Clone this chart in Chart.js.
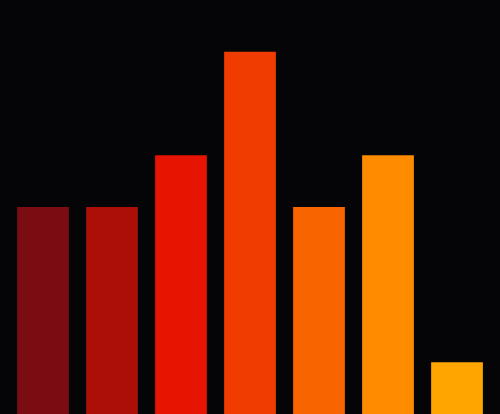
<!DOCTYPE html>
<html>
<head>
<meta charset="utf-8">
<script src="https://cdn.jsdelivr.net/npm/chart.js@4"></script>
<style>
  html, body { margin: 0; padding: 0; background: #050508; }
  #wrap { width: 500px; height: 414px; }
</style>
</head>
<body>
<div id="wrap"><canvas id="c"></canvas></div>
<script>
const categories = ["A", "B", "C", "D", "E", "F", "G"];
const values = [4, 4, 5, 7, 4, 5, 1];
const barColors = ["#7a0c12", "#ab0f08", "#e61400", "#f03c00", "#f86400", "#ff8c00", "#ffa500"];

new Chart(document.getElementById('c'), {
  type: 'bar',
  data: {
    labels: categories,
    datasets: [{
      data: values,
      backgroundColor: barColors,
      borderWidth: 0,
      barPercentage: 0.75,
      categoryPercentage: 1.0
    }]
  },
  options: {
    responsive: true,
    maintainAspectRatio: false,
    animation: false,
    layout: { padding: { left: 8.5, right: 8.5, top: 0, bottom: 0 } },
    plugins: { legend: { display: false }, tooltip: { enabled: false } },
    scales: {
      x: { display: false },
      y: { display: false, min: 0, max: 8 }
    }
  }
});
</script>
</body>
</html>
